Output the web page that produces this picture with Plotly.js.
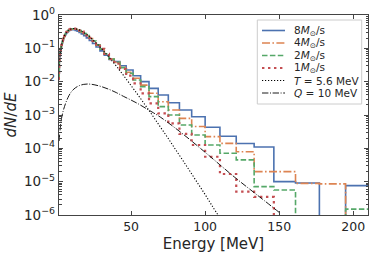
<!DOCTYPE html>
<html><head><meta charset="utf-8">
<script src="https://cdn.plot.ly/plotly-3.0.1.min.js"></script>
<style>html,body{margin:0;padding:0;background:#fff;}#chart{width:374px;height:259px;}</style>
</head><body><div id="chart"></div>
<script>
// histogram bin edges (MeV)
const binEdges = [1.03,1.13,1.25,1.37,1.51,1.66,1.83,2.01,2.21,2.43,2.67,2.94,3.24,3.56,3.91,4.31,4.74,5.21,5.73,6.30,6.93,7.63,8.39,9.23,10.15,11.17,12.28,13.51,14.86,16.35,17.99,19.78,21.76,23.94,26.33,28.97,31.86,35.05,38.55,42.41,46.65,51.32,56.45,62.09,68.30,75.13,82.64,90.91,100,110,121,133.1,146.41,161.05,177.16,194.87,214.36];
// dN/dE per bin (0 = empty bin)
const rate8 = [0.012,0.013,0.014,0.018,0.042,0.049,0.057,0.067,0.078,0.091,0.105,0.121,0.139,0.158,0.179,0.201,0.225,0.250,0.273,0.296,0.318,0.338,0.354,0.364,0.366,0.360,0.345,0.325,0.300,0.272,0.240,0.206,0.172,0.140,0.110,0.084,0.062,0.046,
  0.040,0.030,0.0224,0.0151,0.010,0.0063,0.0040,0.00234,0.00141,8.9e-4,4.3e-4,2.3e-4,1.4e-4,1.1e-4,1.0e-5,9.1e-6,0,7.6e-6];
const rate4 = [0.012,0.013,0.015,0.020,0.043,0.051,0.059,0.070,0.081,0.094,0.108,0.125,0.143,0.162,0.184,0.206,0.231,0.256,0.281,0.305,0.328,0.349,0.366,0.377,0.382,0.380,0.370,0.354,0.331,0.303,0.270,0.234,0.197,0.160,0.125,0.094,0.068,0.048,
  0.038,0.0269,0.0191,0.0126,0.0079,0.00447,0.00251,0.00141,7.9e-4,4.5e-4,2.24e-4,1.41e-4,7.9e-5,2.0e-5,2.0e-5,8.9e-6,8.6e-6,0];
const rate2 = [0.012,0.013,0.015,0.022,0.044,0.051,0.060,0.070,0.081,0.094,0.109,0.125,0.143,0.163,0.185,0.208,0.232,0.257,0.283,0.307,0.330,0.351,0.368,0.380,0.386,0.385,0.377,0.362,0.340,0.311,0.277,0.240,0.202,0.164,0.128,0.096,0.069,0.048,
  0.038,0.0263,0.0178,0.0112,0.0071,0.00355,0.00178,0.0010,5.0e-4,2.5e-4,1.26e-4,7.1e-5,4.5e-5,7.1e-6,5.6e-6,0,0,1.5e-6];
const rate1 = [0.012,0.013,0.016,0.024,0.044,0.052,0.061,0.071,0.082,0.096,0.110,0.127,0.145,0.165,0.187,0.210,0.235,0.260,0.286,0.310,0.334,0.355,0.372,0.384,0.390,0.389,0.381,0.366,0.344,0.316,0.282,0.245,0.205,0.166,0.129,0.096,0.068,0.047,
  0.035,0.024,0.0151,0.0089,0.00447,0.00224,0.00112,5.6e-4,2.7e-4,1.26e-4,5.6e-5,1.7e-5,5.0e-6,3.5e-6,0,0,0,0];
// thermal curve T = 5.6 MeV
const thermalE = [1.3,1.5,2,2.5,3,4,5,6,7,8,9,10,11,12,14,16,18,20,22,25,28,31,35,40,45,50,55,60,65,70,75,80,85,90,95,100,105,110];
const thermalN = [0.031,0.0397,0.0647,0.0924,0.122,0.181,0.237,0.285,0.324,0.355,0.375,0.388,0.392,0.390,0.372,0.340,0.301,0.260,0.220,0.166,0.122,0.0875,0.0545,0.0293,0.0151,0.0076,0.0038,0.00185,8.9e-4,4.2e-4,2.0e-4,9.2e-5,4.3e-5,1.96e-5,9.0e-6,4.1e-6,1.8e-6,8.2e-7];
// Q = 10 MeV curve
const qE = [1.4,1.7,2,2.5,3,4,5,6,8,10,12.5,15,18,21,25,30,35,40,45,50,55,60,65,70,80,90,100,110,120,130,140,150];
const qN = [1.66e-4,2.5e-4,3.5e-4,5.6e-4,7.9e-4,1.26e-3,1.78e-3,2.4e-3,3.8e-3,5.2e-3,6.6e-3,7.6e-3,8.3e-3,8.5e-3,8.1e-3,7.1e-3,5.9e-3,4.7e-3,3.6e-3,2.8e-3,2.14e-3,1.58e-3,1.17e-3,8.5e-4,4.0e-4,1.78e-4,7.6e-5,3.2e-5,1.35e-5,6.0e-6,2.7e-6,1.2e-6];
const seriesNames = ['8<i>M</i><sub>⊙</sub>/s','4<i>M</i><sub>⊙</sub>/s','2<i>M</i><sub>⊙</sub>/s','1<i>M</i><sub>⊙</sub>/s','<i>T</i> = 5.6 MeV','<i>Q</i> = 10 MeV'];
const xTickVals = [50,100,150,200];
const yTickVals = [1e-6,1e-5,1e-4,1e-3,1e-2,1e-1,1];
const yTickText = ['10<sup>−6</sup>','10<sup>−5</sup>','10<sup>−4</sup>','10<sup>−3</sup>','10<sup>−2</sup>','10<sup>−1</sup>','10<sup>0</sup>'];

const colors = ['#4c72b0','#dd8452','#55a868','#c44e52','#000000','#000000'];
const dashes = ['solid','8px,2.4px,1.6px,2.4px','5.5px,2.4px','2.4px,3.6px','1.2px,1.8px','6.4px,1.6px,1px,1.6px'];
const widths = [1.6,1.6,1.6,2.2,1.1,0.9];

function stepXY(edges, vals){
  const x=[], y=[];
  for(let i=0;i<vals.length;i++){
    const v = vals[i] > 0 ? vals[i] : 1e-9;
    x.push(edges[i], edges[i+1]); y.push(v, v);
  }
  return {x, y};
}
const rates = [rate8, rate4, rate2, rate1];
const traces = [];
rates.forEach((r,i)=>{
  const s = stepXY(binEdges, r);
  traces.push({x:s.x, y:s.y, mode:'lines', type:'scatter', showlegend:false,
    line:{color:colors[i], width:widths[i], dash:dashes[i], simplify:false}});
});
traces.push({x:thermalE, y:thermalN, mode:'lines', type:'scatter', showlegend:false, line:{color:'#000', width:widths[4], dash:dashes[4], shape:'spline'}});
traces.push({x:qE, y:qN, mode:'lines', type:'scatter', showlegend:false, line:{color:'#000', width:widths[5], dash:dashes[5], shape:'spline'}});

// manual legend (paper coords)
const L = {l:59, t:15, w:309, h:200};
const px2x = p => (p - L.l)/L.w;
const py2y = p => (L.t + L.h - p)/L.h;
const shapes = [{type:'rect', xref:'paper', yref:'paper', x0:px2x(257.3), x1:px2x(361.7), y0:py2y(104), y1:py2y(20),
  line:{color:'#cccccc', width:1}, fillcolor:'rgba(255,255,255,0.85)', layer:'above'}];
const annotations = [];
const rowY = [30.5,43,55.5,68,80.5,93];
seriesNames.forEach((n,i)=>{
  shapes.push({type:'line', xref:'paper', yref:'paper', x0:px2x(262), x1:px2x(285), y0:py2y(rowY[i]), y1:py2y(rowY[i]),
    line:{color:colors[i], width:widths[i], dash:dashes[i]}, layer:'above'});
  annotations.push({xref:'paper', yref:'paper', x:px2x(292), y:py2y(rowY[i]), xanchor:'left', yanchor:'middle',
    text:n, showarrow:false, font:{family:'DejaVu Sans', size:10.5, color:'#262626'}});
});

const axisCommon = {showline:true, linecolor:'#444', linewidth:1.2, mirror:'allticks', ticks:'inside', tickcolor:'#444',
  ticklen:4, tickwidth:1, showgrid:false, zeroline:false, tickfont:{family:'DejaVu Sans', size:12.5, color:'#262626'}};
const layout = {
  width:374, height:259, margin:{l:59, r:6, t:15, b:44}, paper_bgcolor:'#fff', plot_bgcolor:'#fff',
  font:{family:'DejaVu Sans', color:'#262626'},
  xaxis:Object.assign({}, axisCommon, {range:[1.3,210], tickvals:xTickVals, ticktext:xTickVals.map(String),
    title:{text:'Energy [MeV]', font:{family:'DejaVu Sans', size:15, color:'#262626'}, standoff:5}}),
  yaxis:Object.assign({}, axisCommon, {type:'log', range:[-6,0], tickvals:yTickVals, ticktext:yTickText,
    tickfont:{family:'DejaVu Sans', size:13.5, color:'#262626'},
    minor:{ticks:'inside', ticklen:2.5, tickcolor:'#444', dtick:'D1', showgrid:false},
    title:{text:'<i>dN</i>/<i>dE</i>', font:{family:'DejaVu Sans', size:15, color:'#262626'}, standoff:3}}),
  shapes:shapes, annotations:annotations, showlegend:false
};
Plotly.newPlot('chart', traces, layout, {staticPlot:true, displayModeBar:false});
</script></body></html>
